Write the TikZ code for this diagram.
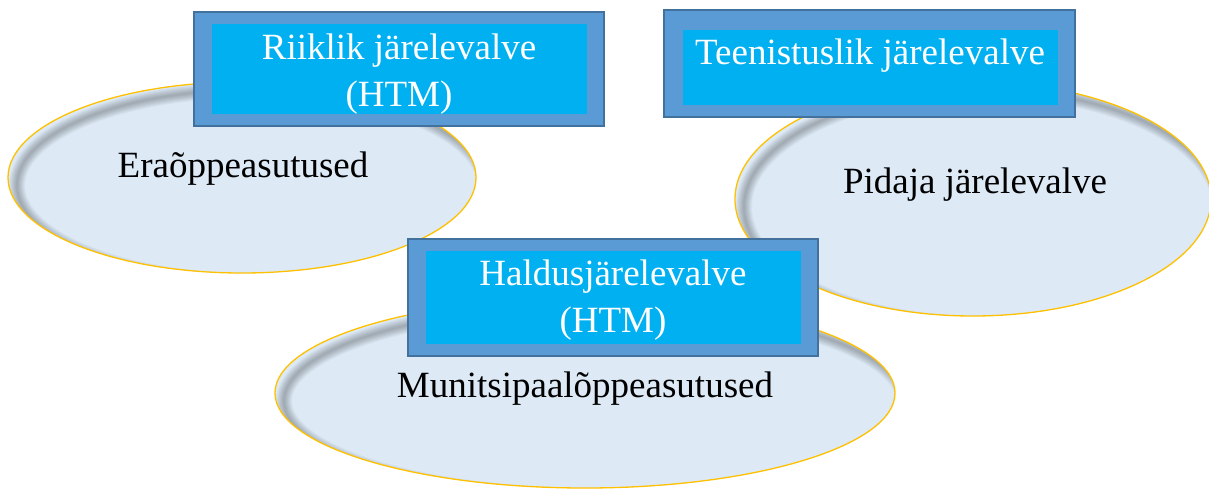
\documentclass[tikz,border=0pt]{standalone}
\usepackage{fontspec}
\setmainfont{Liberation Serif}
\usetikzlibrary{calc}
\definecolor{ovalfill}{HTML}{DDEAF6}
\definecolor{ovalline}{HTML}{FFC000}
\definecolor{frameblue}{HTML}{5B9BD5}
\definecolor{frameline}{HTML}{41719C}
\definecolor{innerblue}{HTML}{00B0F0}

\begin{document}
\begin{tikzpicture}[x=1pt, y=-1pt, font=\fontsize{37}{47}\selectfont,
  frame/.style={rectangle, fill=frameblue, draw=frameline, line width=2pt, inner sep=0pt},
  core/.style={rectangle, fill=innerblue, inner sep=0pt},
  boxtext/.style={text=white, align=center, inner sep=0pt, anchor=base},
  ovaltext/.style={text=black, inner sep=0pt, anchor=base}]
  \useasboundingbox (0,0) rectangle (1209,490);
  % ovals: light fill, soft inner shadow at upper left, gold rim
  \foreach \cx/\cy/\rx/\ry in {242/177.5/234/95.5, 973/199/238/117, 585/393/310/95}{
    \fill[ovalfill] (\cx,\cy) ellipse [x radius=\rx pt, y radius=\ry pt];
    \begin{scope}
      \clip (\cx,\cy) ellipse [x radius=\rx pt, y radius=\ry pt];
      \foreach \w in {2,4,...,16}
        \draw[black, opacity=0.035, line width=\w pt] (\cx+9,\cy+8) ellipse [x radius=\rx pt, y radius=\ry pt];
    \end{scope}
    \draw[ovalline, line width=1.3pt] (\cx,\cy) ellipse [x radius=\rx pt, y radius=\ry pt];
  }
  % oval texts
  \node[ovaltext] (era)   at (243,177) {Eraõppeasutused};
  \node[ovaltext] (pidaja) at (975,193) {Pidaja järelevalve};
  \node[ovaltext] (muni)  at (585,397) {Munitsipaalõppeasutused};
  % Riiklik box
  \node[frame, minimum width=410pt, minimum height=114pt] (riikframe) at (399,69) {};
  \node[core, minimum width=375pt, minimum height=90pt] (riikcore) at (399,69) {};
  \node[boxtext] (riiktext) at (399,106) {Riiklik järelevalve\\(HTM)};
  % Teenistuslik box
  \node[frame, minimum width=411pt, minimum height=107pt] (teenframe) at (869.5,63.5) {};
  \node[core, minimum width=375pt, minimum height=75pt] (teencore) at (870.5,67.5) {};
  \node[boxtext] (teentext) at (870,64) {Teenistuslik järelevalve};
  % Haldus box
  \node[frame, minimum width=410pt, minimum height=117pt] (haldframe) at (613,297.5) {};
  \node[core, minimum width=375pt, minimum height=93pt] (haldcore) at (613.5,297.5) {};
  \node[boxtext] (haldtext) at (613,332) {Haldusjärelevalve\\(HTM)};
\end{tikzpicture}
\end{document}
